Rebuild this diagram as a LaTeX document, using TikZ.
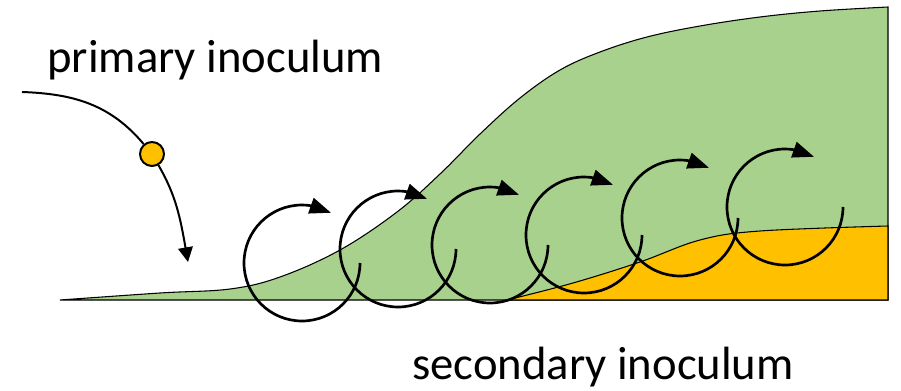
\documentclass[tikz,border=0pt]{standalone}
\usepackage{fontspec}
\setmainfont{Carlito}
\usepackage{xcolor}
\usepackage{tikz}
\usetikzlibrary{arrows.meta,bending}
\definecolor{leafgreen}{HTML}{A9D18E}
\definecolor{sporegold}{HTML}{FFC000}
\begin{document}
\begin{tikzpicture}[x=0.75pt,y=0.75pt,
  spin/.style={line width=2pt,-{Triangle[length=16pt,width=12pt,flex]}},
  label/.style={font=\fontsize{35}{42}\selectfont,inner sep=0pt,anchor=base west}]
\useasboundingbox(0,0)rectangle(901,390);
\fill[white](0,0)rectangle(901,390);
% disease curves
\draw[fill=leafgreen,line width=0.8pt](60,90)--(888,90)--(888,383)
 --plot[smooth,tension=0.6] coordinates{(888,383)(820,379)(760,373)(700,364)(647,353)(600,338)(560,320)(520,292)(480,256)(440,216)(397,178)(340,140)(280,113)(230,101)(160,97)(60,90)}--cycle;
\draw[fill=sporegold,line width=0.8pt](888,90)--(507,90)
 --plot[smooth,tension=0.6] coordinates{(507,90)(573,107)(640,128)(700,150)(760,159)(888,164)}--cycle;
% secondary cycles
\draw[spin](302,127)++(0:58)arc[start angle=0,end angle=-300,radius=58];
\draw[spin](398,141)++(0:58)arc[start angle=0,end angle=-300,radius=58];
\draw[spin](490,145)++(0:58)arc[start angle=0,end angle=-300,radius=58];
\draw[spin](584,155)++(0:58)arc[start angle=0,end angle=-300,radius=58];
\draw[spin](680,172)++(0:58)arc[start angle=0,end angle=-300,radius=58];
\draw[spin](785,183)++(0:58)arc[start angle=0,end angle=-300,radius=58];
% primary inoculum
\coordinate(src)at(22,298);
\coordinate(land)at(188,128);
\node[circle,draw,line width=1.5pt,fill=sporegold,minimum size=18pt,inner sep=0pt](spore)at(152,236){};
\draw[line width=1.5pt](src)to[out=-2,in=130](spore);
\draw[line width=1.5pt,-{Triangle[length=11pt,width=11pt]}](spore)to[out=-60,in=100](land);
\node[label](primary)at(47,317){primary inoculum};
\node[label](secondary)at(412,11){secondary inoculum};
\end{tikzpicture}
\end{document}
